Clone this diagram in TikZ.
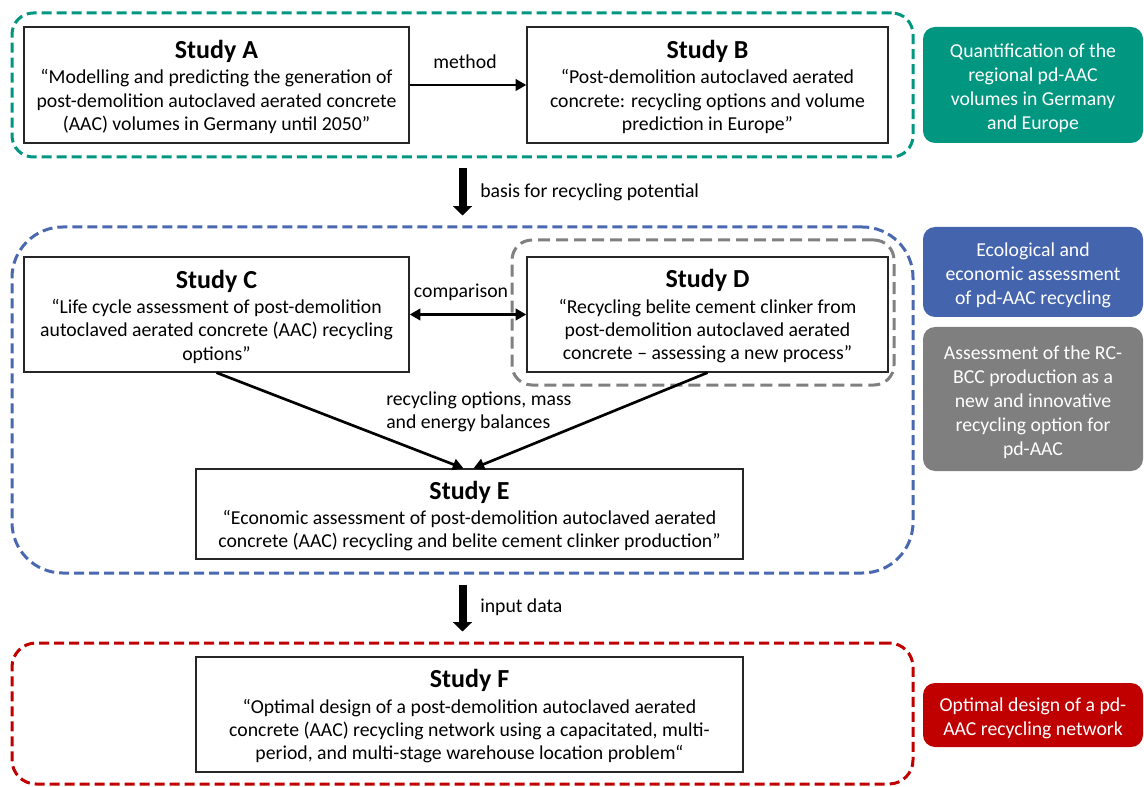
\documentclass[tikz,border=0pt]{standalone}
\usepackage{fontspec}
\setmainfont{Carlito}
\usetikzlibrary{arrows.meta,fit,calc}
\definecolor{cteal}{RGB}{0,150,128}
\definecolor{cblue}{RGB}{68,100,173}
\definecolor{cbluedash}{RGB}{74,104,176}
\definecolor{cgray}{RGB}{127,127,127}
\definecolor{cgraydash}{RGB}{128,128,128}
\definecolor{cred}{RGB}{192,0,0}
\newcommand\bodyfs{\fontsize{14.8pt}{17.5pt}\selectfont}
\newcommand\titlefs{\fontsize{19.5pt}{22pt}\selectfont\bfseries}
\begin{document}
\begin{tikzpicture}[x=0.75pt,y=-0.75pt,
  >={Triangle[width=8.5pt,length=8pt]},
  studybox/.style={draw=black!85, line width=1pt, fill=white, inner sep=0pt},
  studytext/.style={inner sep=0pt, align=center, font=\bodyfs, yshift=-1.5pt},
  groupbox/.style={draw=#1, line width=2.25pt, dash pattern=on 7.5pt off 3.75pt, inner sep=0pt},
  sidebox/.style={fill=#1, rounded corners=9pt, inner sep=0pt},
  sidetext/.style={inner sep=0pt, align=center, text=white, font={\fontsize{14.8pt}{18pt}\selectfont}, yshift=-2.25pt},
  thinarrow/.style={line width=2pt},
  bigarrow/.style={line width=6pt, -{Triangle[width=14pt,length=7pt]}, shorten <=7.5pt, shorten >=7.5pt},
  lbl/.style={font=\bodyfs, inner sep=0pt}]
\useasboundingbox (0,0) rectangle (1144,787);

% group frames
\node[groupbox=cteal, rounded corners=16pt, fit={(12,13)(913,157)}] (G1) {};
\node[groupbox=cbluedash, rounded corners=38pt, fit={(12,227)(913,573)}] (G2) {};
\node[groupbox=cgraydash, rounded corners=15pt, dash pattern=on 9pt off 4.5pt, fit={(512,240)(894,385)}] (G3) {};
\node[groupbox=cred, rounded corners=18pt, fit={(12,643)(913,784)}] (G4) {};

% studies
\node[studybox, fit={(24,27)(409,143)}] (A) {};
\node[studytext] (At) at (A.center) {{\titlefs Study A}\\[1.5pt]“Modelling and predicting the generation of\\post-demolition autoclaved aerated concrete\\(AAC) volumes in Germany until 2050”};
\node[studybox, fit={(527,27)(888,143)}] (B) {};
\node[studytext] (Bt) at (B.center) {{\titlefs Study B}\\[1.5pt]“Post-demolition autoclaved aerated\\concrete: recycling options and volume\\prediction in Europe”};
\node[studybox, fit={(24,257)(409,372)}] (C) {};
\node[studytext] (Ct) at (C.center) {{\titlefs Study C}\\[1.5pt]“Life cycle assessment of post-demolition\\autoclaved aerated concrete (AAC) recycling\\options”};
\node[studybox, fit={(527,257)(888,372)}] (D) {};
\node[studytext] (Dt) at (D.center) {{\titlefs Study D}\\[1.5pt]“Recycling belite cement clinker from\\post-demolition autoclaved aerated\\concrete – assessing a new process”};
\node[studybox, fit={(196,469)(743,559)}] (E) {};
\node[studytext] (Et) at (E.center) {{\titlefs Study E}\\[1.5pt]“Economic assessment of post-demolition autoclaved aerated\\concrete (AAC) recycling and belite cement clinker production”};
\node[studybox, fit={(196,657)(743,772)}] (F) {};
\node[studytext] (Ft) at (F.center) {{\titlefs Study F}\\[1.5pt]“Optimal design of a post-demolition autoclaved aerated\\concrete (AAC) recycling network using a capacitated, multi-\\period, and multi-stage warehouse location problem“};

% connectors
\draw[thinarrow, ->] (A) -- (B);
\node[lbl] (mth) at (465,62) {method};
\draw[bigarrow] (G1.south) -- (G2.north);
\node[lbl, anchor=west] (bas) at (480,192) {basis for recycling potential};
\draw[thinarrow, <->] (C) -- (D);
\node[lbl] (cmp) at (461,292) {comparison};
\draw[thinarrow, ->] (C.south) -- ($(E.north)+(-6,0)$);
\draw[thinarrow, ->] (D.south) -- ($(E.north)+(4,0)$);
\node[lbl, anchor=west, align=left] (rec) at (386,412) {recycling options, mass\\and energy balances};
\draw[bigarrow] (G2.south) -- (G4.north);
\node[lbl, anchor=west] (inp) at (480,607) {input data};

% side labels
\node[sidebox=cteal, fit={(923,27)(1143,143)}] (S1) {};
\node[sidetext] (S1t) at (S1.center) {Quantification of the\\regional pd-AAC\\volumes in Germany\\and Europe};
\node[sidebox=cblue, fit={(923,227)(1143,317)}] (S2) {};
\node[sidetext] (S2t) at (S2.center) {Ecological and\\economic assessment\\of pd-AAC recycling};
\node[sidebox=cgray, fit={(923,327)(1143,471)}] (S3) {};
\node[sidetext] (S3t) at (S3.center) {Assessment of the RC-\\BCC production as a\\new and innovative\\recycling option for\\pd-AAC};
\node[sidebox=cred, fit={(923,683)(1143,747)}] (S4) {};
\node[sidetext] (S4t) at (S4.center) {Optimal design of a pd-\\AAC recycling network};
\end{tikzpicture}
\end{document}
